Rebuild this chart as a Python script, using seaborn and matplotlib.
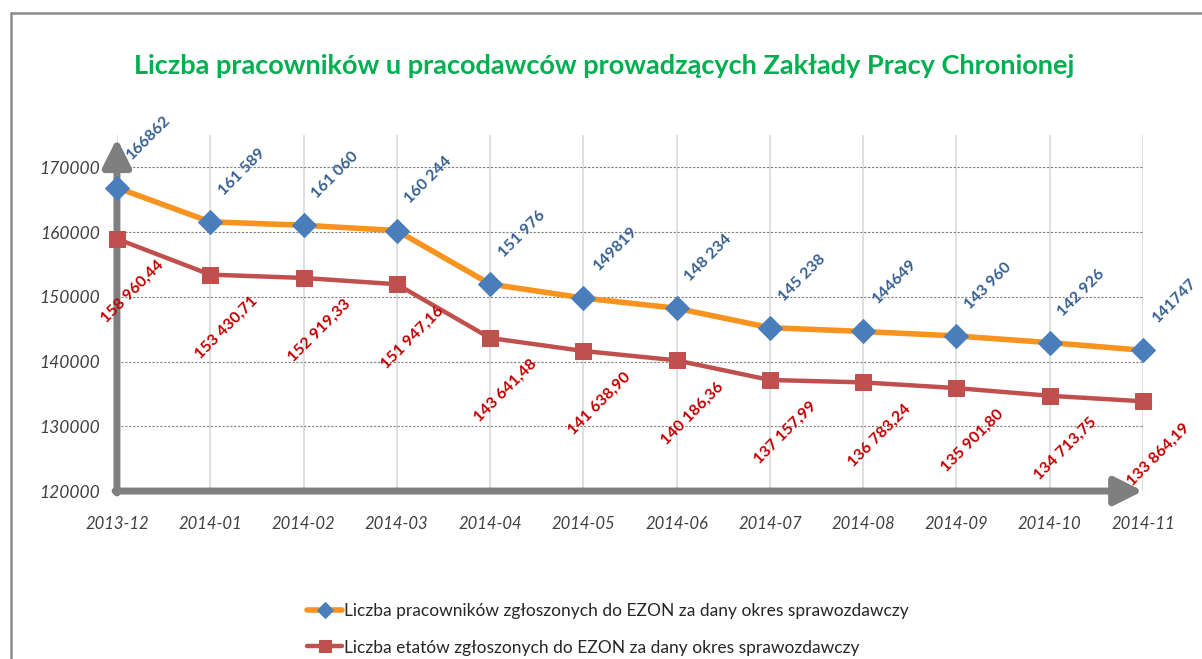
import numpy as np
import pandas as pd
import seaborn as sns
import matplotlib.pyplot as plt
from matplotlib.lines import Line2D

months = ['2013-12', '2014-01', '2014-02', '2014-03', '2014-04', '2014-05',
          '2014-06', '2014-07', '2014-08', '2014-09', '2014-10', '2014-11']
workers = [166862, 161589, 161060, 160244, 151976, 149819,
           148234, 145238, 144649, 143960, 142926, 141747]
posts = [158960.44, 153430.71, 152919.33, 151947.16, 143641.48, 141638.90,
         140186.36, 137157.99, 136783.24, 135901.80, 134713.75, 133864.19]
workers_labels = ['166862', '161 589', '161 060', '160 244', '151 976', '149819',
                  '148 234', '145 238', '144649', '143 960', '142 926', '141747']
posts_labels = ['158 960,44', '153 430,71', '152 919,33', '151 947,16', '143 641,48',
                '141 638,90', '140 186,36', '137 157,99', '136 783,24', '135 901,80',
                '134 713,75', '133 864,19']
yticks = [120000, 130000, 140000, 150000, 160000, 170000]

name_workers = 'Liczba pracowników zgłoszonych do EZON za dany okres sprawozdawczy'
name_posts = 'Liczba etatów zgłoszonych do EZON za dany okres sprawozdawczy'

sns.set_style('white')
plt.rcParams['font.family'] = ['Lato', 'DejaVu Sans']

df = pd.DataFrame({'x': np.arange(len(months)), 'workers': workers, 'posts': posts})

fig = plt.figure(figsize=(12.02, 6.59), dpi=100)
ax = fig.add_axes([0.0973, 0.2549, 0.8536, 0.5402])

# gridlines
for x in df['x']:
    ax.axvline(x, color='#D9D9D9', lw=1.2, zorder=0)
for y in yticks[1:]:
    ax.axhline(y, color='#7F7F7F', lw=0.8, ls=(0, (2, 1.5)), zorder=0)

sns.lineplot(data=df, x='x', y='workers', ax=ax, color='#F7931E', lw=4,
             marker='D', markersize=12, markerfacecolor='#4A7EBB',
             markeredgecolor='#4A7EBB', label=name_workers, zorder=4, clip_on=False)
sns.lineplot(data=df, x='x', y='posts', ax=ax, color='#C0504D', lw=3.2,
             marker='s', markersize=12, markerfacecolor='#C0504D',
             markeredgecolor='#C0504D', label=name_posts, zorder=3, clip_on=False)

for x, y, t in zip(df['x'], workers, workers_labels):
    ax.annotate(t, (x, y), xytext=(32, 50), textcoords='offset pixels',
                ha='center', va='center', rotation=45, color='#376092',
                fontsize=11.5, fontweight='bold', annotation_clip=False)
for x, y, t in zip(df['x'], posts, posts_labels):
    ax.annotate(t, (x, y), xytext=(16, -53), textcoords='offset pixels',
                ha='center', va='center', rotation=45, color='#C00000',
                fontsize=11.5, fontweight='bold', annotation_clip=False)

ax.set_xlim(0, len(months) - 1)
ax.set_ylim(120000, 175000)
ax.set_xticks(df['x'])
ax.set_xticklabels(months)
ax.set_yticks(yticks)
ax.set_yticklabels([str(v) for v in yticks])
ax.set_xlabel('')
ax.set_ylabel('')
for s in ax.spines.values():
    s.set_visible(False)
ax.tick_params(axis='both', colors='#7F7F7F', length=5, width=2, direction='out')
ax.tick_params(axis='y', pad=7)
ax.tick_params(axis='x', pad=13)
for lab in ax.get_xticklabels():
    lab.set_fontsize(12)
    lab.set_fontstyle('italic')
    lab.set_color('#404040')
for lab in ax.get_yticklabels():
    lab.set_fontsize(12.5)
    lab.set_fontstyle('italic')
    lab.set_color('#404040')

# axis arrows
arrow = dict(arrowstyle='-|>,head_length=1.0,head_width=0.5', lw=5,
             color='#7F7F7F', shrinkA=0, shrinkB=0, mutation_scale=17)
ax.annotate('', xy=(0, 174500), xytext=(0, 119700), arrowprops=arrow,
            annotation_clip=False, zorder=2)
ax.annotate('', xy=(len(months) - 1, 120000), xytext=(-0.02, 120000),
            arrowprops=arrow, annotation_clip=False, zorder=2)

ax.get_legend().remove()
handles, labels = ax.get_legend_handles_labels()
fig.legend(handles, labels, loc='upper left', bbox_to_anchor=(0.25, 0.096),
           frameon=False, fontsize=12.5, labelcolor='#262626', handlelength=2.0,
           handletextpad=0.1, labelspacing=1.2, borderaxespad=0, markerscale=0.7)

fig.text(0.503, 0.9, 'Liczba pracowników u pracodawców prowadzących Zakłady Pracy Chronionej',
         ha='center', va='center', fontsize=19.5, fontweight='bold', color='#00B050')

# outer frame (left and top only, rest cropped)
fig.add_artist(Line2D([11 / 1202, 11 / 1202], [0, 1 - 13 / 659], color='#8C8C8C',
                      lw=1.8, transform=fig.transFigure))
fig.add_artist(Line2D([11 / 1202, 1], [1 - 13 / 659, 1 - 13 / 659], color='#8C8C8C',
                      lw=1.8, transform=fig.transFigure))

fig.savefig('out.png', dpi=100)
